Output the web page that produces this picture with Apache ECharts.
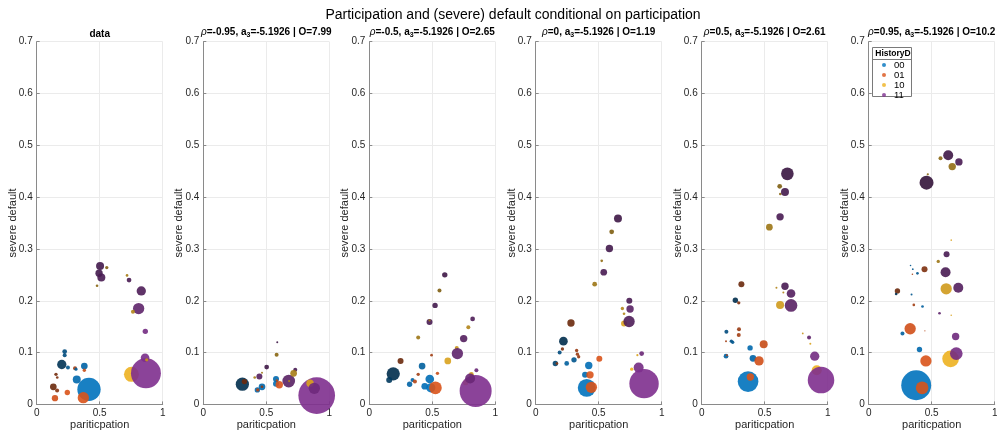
<!DOCTYPE html>
<html>
<head>
<meta charset="utf-8">
<script src="https://cdn.jsdelivr.net/npm/echarts@6/dist/echarts.min.js"></script>
<style>html,body{margin:0;padding:0;background:#fff}#c{width:997px;height:431px}</style>
</head>
<body>
<div id="c"></div>
<script>
// Each point: [participation, severe default, mass (bubble weight), history group index, shade level]
const groups = ['00', '01', '10', '11'];
const xTicks = [0, 0.5, 1];
const yTicks = [0, 0.1, 0.2, 0.3, 0.4, 0.5, 0.6, 0.7];
const panelTitles = ['data', 'ρ=-0.95', 'ρ=-0.5', 'ρ=0', 'ρ=0.5', 'ρ=0.95'];
const panelA3 = [null, '-5.1926', '-5.1926', '-5.1926', '-5.1926', '-5.1926'];
const panelO = [null, '7.99', '2.65', '1.19', '2.61', '10.2'];

const dataObserved = [
  [0.503,0.267,4,3,0.55],[0.495,0.253,3.4,3,0.55],[0.513,0.245,4,3,0.5],[0.556,0.264,0.7,2,0.55],
  [0.479,0.229,0.44,2,0.5],[0.717,0.249,0.44,2,0.35],[0.733,0.240,1.4,3,0.5],[0.830,0.219,5.4,3,0.45],
  [0.809,0.185,8,3,0.3],[0.764,0.179,1,2,0.3],[0.862,0.141,1.8,3,0.1],[0.752,0.058,14,2,0],
  [0.860,0.090,4.7,3,0.05],[0.867,0.060,56,3,0],[0.873,0.086,0.7,2,0.2],[0.415,0.029,34,0,0],
  [0.370,0.013,8,1,0],[0.318,0.048,4,0,0.1],[0.378,0.074,2.8,0,0.15],[0.378,0.066,0.7,1,0.1],
  [0.222,0.102,1.4,0,0.4],[0.222,0.095,1,0,0.4],[0.199,0.077,5.4,0,0.65],[0.248,0.071,1,0,0.3],
  [0.304,0.070,1,1,0.3],[0.312,0.068,0.6,0,0.2],[0.153,0.058,0.7,1,0.55],[0.163,0.052,0.44,1,0.5],
  [0.132,0.034,2.8,1,0.6],[0.162,0.027,1,1,0.45],[0.243,0.023,1.8,1,0],[0.145,0.012,2.5,1,0.05]
];
const dataRhoM095 = [
  [0.310,0.039,11,0,0.7],[0.326,0.044,1.8,1,0.6],[0.466,0.034,2.8,0,0.1],[0.466,0.034,0.44,1,0.4],
  [0.429,0.028,1.8,0,0.1],[0.432,0.028,0.7,1,0.2],[0.587,0.120,0.25,3,0.6],[0.582,0.096,1,2,0.5],
  [0.503,0.072,1.4,3,0.6],[0.466,0.061,0.25,2,0.4],[0.408,0.052,0.44,2,0.35],[0.445,0.054,2.25,3,0.4],
  [0.577,0.049,2.25,0,0.1],[0.577,0.040,2.25,0,0.05],[0.603,0.038,3.4,1,0],[0.585,0.046,0.4,1,0.2],
  [0.678,0.045,10,3,0.35],[0.681,0.045,0.3,2,0.3],[0.730,0.067,1,3,0.5],[0.717,0.060,2.8,2,0.35],
  [0.900,0.017,84,3,0],[0.847,0.041,3.4,2,0.1],[0.881,0.031,8,3,0.15]
];
const dataRhoM05 = [
  [0.599,0.250,1.8,3,0.6],[0.557,0.220,1,2,0.55],[0.522,0.191,1.8,3,0.55],[0.478,0.159,2.25,3,0.5],
  [0.478,0.162,0.3,2,0.4],[0.820,0.165,1.4,3,0.45],[0.786,0.149,1,2,0.3],[0.749,0.127,3.4,3,0.4],
  [0.694,0.109,1,2,0.2],[0.699,0.098,8,3,0.3],[0.388,0.129,1,2,0.4],[0.494,0.095,0.44,1,0.3],
  [0.248,0.084,2.25,1,0.6],[0.623,0.084,2.8,2,0.1],[0.419,0.074,2.8,0,0.2],[0.541,0.060,0.7,1,0.1],
  [0.190,0.059,11,0,0.7],[0.158,0.047,2.25,0,0.6],[0.850,0.066,1,3,0.2],[0.810,0.058,1.4,2,0.15],
  [0.388,0.058,0.7,1,0.3],[0.343,0.047,1,0,0.15],[0.362,0.044,1,1,0.2],[0.320,0.039,1.8,0,0.15],
  [0.480,0.049,4.7,0,0.05],[0.440,0.035,2.8,0,0.05],[0.488,0.032,5.4,0,0],[0.525,0.032,10,1,0],
  [0.765,0.042,1.8,2,0],[0.844,0.026,64,3,0],[0.800,0.050,6.25,3,0.2]
];
const dataRho0 = [
  [0.653,0.359,4,3,0.6],[0.603,0.333,1.4,2,0.55],[0.585,0.301,3.4,3,0.55],[0.524,0.277,0.44,2,0.45],
  [0.540,0.255,2.8,3,0.5],[0.468,0.232,1.4,2,0.4],[0.743,0.200,2.25,3,0.5],[0.688,0.185,0.7,2,0.3],
  [0.701,0.175,0.44,2,0.3],[0.749,0.184,3.4,3,0.35],[0.701,0.156,2.25,2,0.1],[0.741,0.160,8,3,0.45],
  [0.280,0.157,3.4,1,0.6],[0.220,0.122,4.7,0,0.7],[0.212,0.107,0.7,1,0.5],[0.190,0.100,1,0,0.4],
  [0.325,0.104,0.7,1,0.35],[0.331,0.097,0.7,1,0.35],[0.341,0.092,0.7,1,0.35],[0.304,0.086,1.8,0,0.3],
  [0.246,0.079,1.4,0,0.2],[0.156,0.079,1.8,0,0.5],[0.169,0.079,0.44,1,0.4],[0.505,0.088,2.25,1,0],
  [0.421,0.075,3.4,0,0.05],[0.392,0.057,2.25,0,0.1],[0.431,0.057,3.4,1,0],[0.405,0.032,20,0,0],
  [0.442,0.033,8,1,0],[0.841,0.098,1.4,3,0.2],[0.807,0.095,0.3,2,0.1],[0.762,0.068,0.7,2,0],
  [0.817,0.071,6.25,3,0.1],[0.860,0.040,54,3,0]
];
const dataRho05 = [
  [0.680,0.445,10,3,0.65],[0.619,0.421,1.4,2,0.55],[0.624,0.406,0.44,2,0.5],[0.661,0.410,4,3,0.55],
  [0.622,0.362,3.4,3,0.5],[0.537,0.342,2.8,2,0.4],[0.315,0.232,2.25,1,0.6],[0.267,0.201,1.8,0,0.7],
  [0.294,0.196,0.7,1,0.5],[0.593,0.225,0.25,2,0.3],[0.661,0.228,3.4,3,0.5],[0.648,0.216,0.25,2,0.3],
  [0.709,0.214,4.7,3,0.4],[0.622,0.192,4,2,0.15],[0.709,0.191,10,3,0.35],[0.296,0.145,1,1,0.35],
  [0.294,0.134,1,1,0.3],[0.196,0.140,1,0,0.4],[0.235,0.122,0.7,0,0.35],[0.246,0.120,0.7,0,0.3],
  [0.193,0.122,0.25,1,0.3],[0.492,0.116,4,1,0.1],[0.384,0.109,1.8,0,0.1],[0.407,0.089,2.8,0,0.15],
  [0.455,0.084,5.4,1,0.05],[0.193,0.093,1.4,0,0.2],[0.200,0.095,0.25,1,0.2],[0.368,0.044,26.7,0,0],
  [0.386,0.053,3.4,1,0],[0.802,0.137,0.2,2,0.2],[0.852,0.129,1,3,0.3],[0.862,0.117,0.25,2,0.1],
  [0.897,0.093,5.4,3,0.1],[0.913,0.066,6.25,2,0],[0.947,0.047,44,3,0]
];
const dataRho095 = [
  [0.631,0.481,6.25,3,0.6],[0.570,0.475,1,2,0.5],[0.716,0.468,3.4,3,0.5],[0.663,0.459,3.4,2,0.45],
  [0.469,0.444,0.3,2,0.5],[0.459,0.428,12.25,3,0.7],[0.655,0.317,0.15,2,0.1],[0.618,0.290,2.25,3,0.5],
  [0.552,0.276,0.7,2,0.4],[0.443,0.261,2.25,1,0.5],[0.332,0.268,0.15,0,0.3],[0.350,0.261,0.2,0,0.3],
  [0.387,0.253,0.44,0,0.3],[0.347,0.251,0.15,1,0.3],[0.610,0.255,6.25,3,0.5],[0.615,0.223,8,2,0.15],
  [0.711,0.225,6.25,3,0.4],[0.228,0.219,1.8,1,0.6],[0.218,0.213,0.44,0,0.7],[0.340,0.212,0.25,0,0.3],
  [0.358,0.192,0.44,1,0.3],[0.427,0.189,0.44,0,0.2],[0.562,0.176,0.44,3,0.3],[0.655,0.172,0.15,2,0.1],
  [0.268,0.137,1,0,0.2],[0.329,0.146,8,1,0.05],[0.446,0.142,0.1,1,0.2],[0.690,0.131,3.4,3,0.15],
  [0.403,0.106,1.8,0,0.1],[0.454,0.084,8,1,0],[0.650,0.088,17.4,2,0],[0.695,0.098,10,3,0.1],
  [0.377,0.037,56,0,0],[0.424,0.032,10,1,0]
];
const panels = [dataObserved, dataRhoM095, dataRhoM05, dataRho0, dataRho05, dataRho095];

// ---- styling / layout ----
const baseRGB = [[0,114,189],[217,83,25],[237,177,32],[126,47,142]];
function pointColor(g, shade) {
  const f = 1 - 0.85 * shade;
  const c = baseRGB[g];
  return 'rgb(' + Math.round(c[0]*f) + ',' + Math.round(c[1]*f) + ',' + Math.round(c[2]*f) + ')';
}
const FONT = '"Liberation Sans", Arial, Helvetica, sans-serif';
const lefts = [36.7, 203.3, 369.3, 535.7, 701.7, 868.7];
const gridW = 126, gridTop = 41.7, gridH = 362.7;

const grids = [], xAxes = [], yAxes = [], series = [], graphics = [];
panels.forEach((pts, i) => {
  grids.push({left: lefts[i], top: gridTop, width: gridW, height: gridH,
    containLabel: false, outerBoundsMode: 'none'});
  xAxes.push({
    type: 'value', gridIndex: i, min: 0, max: 1, interval: 0.5,
    name: 'pariticpation', nameLocation: 'middle', nameGap: 15, nameMoveOverlap: false,
    nameTextStyle: {fontFamily: FONT, fontSize: 11, color: '#262626'},
    axisLine: {show: true, lineStyle: {color: '#8a8a8a', width: 1}},
    axisTick: {show: true, inside: true, length: 3, lineStyle: {color: '#8a8a8a'}},
    axisLabel: {fontFamily: FONT, fontSize: 10, color: '#262626', margin: 4,
      formatter: v => String(xTicks.find(t => Math.abs(t - v) < 1e-9) ?? v)},
    splitLine: {show: true, lineStyle: {color: '#ebebeb', width: 1}}
  });
  yAxes.push({
    type: 'value', gridIndex: i, min: 0, max: 0.7, interval: 0.1,
    name: 'severe default', nameLocation: 'middle', nameGap: 18.5, nameMoveOverlap: false,
    nameTextStyle: {fontFamily: FONT, fontSize: 11, color: '#262626'},
    axisLine: {show: true, lineStyle: {color: '#8a8a8a', width: 1}},
    axisTick: {show: true, inside: true, length: 3, lineStyle: {color: '#8a8a8a'}},
    axisLabel: {fontFamily: FONT, fontSize: 10, color: '#262626', margin: 4,
      formatter: v => String(yTicks.find(t => Math.abs(t - v) < 1e-9) ?? v)},
    splitLine: {show: true, lineStyle: {color: '#ebebeb', width: 1}}
  });
  series.push({
    type: 'scatter', xAxisIndex: i, yAxisIndex: i, clip: false,
    data: pts,
    symbol: 'circle',
    symbolSize: d => 4 * Math.sqrt(d[2]),
    itemStyle: {opacity: 0.9, color: p => pointColor(p.data[3], p.data[4])},
    emphasis: {disabled: true},
    animation: false
  });
  const cx = lefts[i] + gridW / 2;
  if (i === 0) {
    graphics.push({type: 'text', x: cx, y: 34, style: {text: panelTitles[i], fill: '#000',
      font: 'bold 10px ' + FONT, align: 'center', verticalAlign: 'middle'}});
  } else {
    graphics.push({type: 'text', x: cx, y: 32, style: {
      text: '{r|ρ}{b|' + panelTitles[i].slice(1) + ', a}{s|3}{b|=' + panelA3[i] + ' | O=' + panelO[i] + '}',
      align: 'center', verticalAlign: 'middle',
      rich: {
        r: {fontFamily: FONT, fontSize: 10, fontStyle: 'italic', fill: '#000', lineHeight: 14, verticalAlign: 'middle'},
        b: {fontFamily: FONT, fontSize: 10, fontWeight: 'bold', fill: '#000', lineHeight: 14, verticalAlign: 'middle'},
        s: {fontFamily: FONT, fontSize: 7, fontWeight: 'bold', fill: '#000', lineHeight: 14, verticalAlign: 'bottom'}
      }}});
  }
});

// legend dummy series
groups.forEach((g, k) => {
  series.push({type: 'scatter', name: g, xAxisIndex: 5, yAxisIndex: 5, data: [],
    itemStyle: {color: pointColor(k, 0)}, symbol: 'circle'});
});

graphics.push({type: 'text', x: 513, y: 15, style: {
  text: 'Participation and (severe) default conditional on participation', fill: '#000',
  font: '14px ' + FONT, align: 'center', verticalAlign: 'middle'}});
graphics.push({type: 'rect', shape: {x: 872.5, y: 47.5, width: 39, height: 49},
  style: {fill: '#fff', stroke: '#7a7a7a', lineWidth: 1}, z: 50});
graphics.push({type: 'line', shape: {x1: 872.5, y1: 59.5, x2: 911.5, y2: 59.5},
  style: {stroke: '#7a7a7a', lineWidth: 1}, z: 51});
graphics.push({type: 'text', x: 893, y: 54, z: 51, style: {text: 'HistoryD', fill: '#000',
  font: 'bold 8.5px ' + FONT, align: 'center', verticalAlign: 'middle'}});

const chart = echarts.init(document.getElementById('c'), null, {renderer: 'canvas'});
chart.setOption({
  animation: false,
  backgroundColor: '#fff',
  grid: grids, xAxis: xAxes, yAxis: yAxes, series: series,
  graphic: graphics,
  legend: {
    data: groups, orient: 'vertical', left: 882, top: 60, z: 60,
    itemWidth: 10, itemHeight: 4, itemGap: 0, padding: 0,
    icon: 'circle',
    textStyle: {fontFamily: FONT, fontSize: 9.5, color: '#000', lineHeight: 9.8},
    selectedMode: false
  }
});
</script>
</body>
</html>
